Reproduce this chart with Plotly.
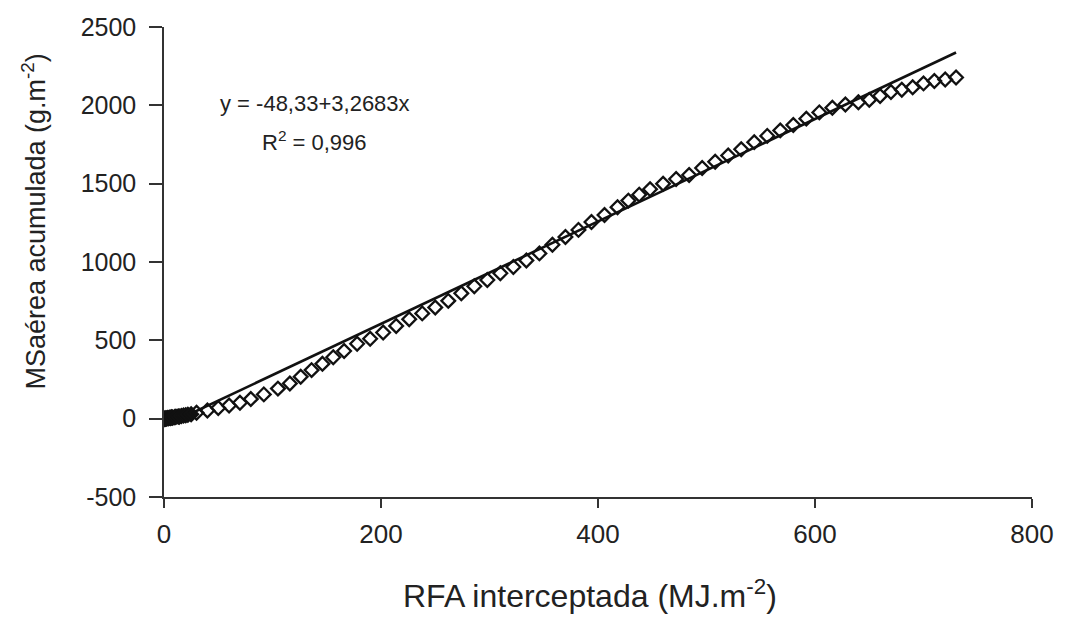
import plotly.graph_objects as go

# Observed data: accumulated above-ground dry matter vs intercepted PAR
rfa_cluster = [0, 1, 2, 3, 4, 5, 6, 7, 8, 10, 11, 13, 14, 16, 18, 20, 22, 25]
ms_cluster = [0, 2, 1, 4, 3, 6, 5, 8, 7, 10, 12, 14, 13, 17, 20, 22, 25, 28]

rfa = [30, 40, 50, 60, 70, 80, 92, 105, 116, 126, 136, 146, 156, 166, 178,
       190, 202, 214, 226, 238, 250, 262, 274, 286, 298, 310, 322, 334, 346,
       358, 370, 382, 394, 406, 418, 428, 438, 448, 460, 472, 484, 496, 508,
       520, 532, 544, 556, 568, 580, 592, 604, 616, 628, 640, 650, 660, 670,
       680, 690, 700, 710, 720, 730]
ms = [38, 52, 68, 84, 102, 125, 155, 192, 225, 268, 310, 350, 392, 432, 478,
      510, 550, 592, 635, 672, 710, 752, 800, 845, 885, 928, 968, 1010, 1055,
      1110, 1160, 1205, 1255, 1300, 1350, 1392, 1430, 1465, 1500, 1530, 1555,
      1600, 1640, 1680, 1720, 1765, 1805, 1840, 1875, 1915, 1955, 1985, 2005,
      2020, 2035, 2060, 2085, 2100, 2115, 2140, 2155, 2165, 2178]

# Regression line given on the chart
intercept = -48.33
slope = 3.2683
line_x = [0, 730]
line_y = [intercept + slope * v for v in line_x]

x_ticks = [0, 200, 400, 600, 800]
y_ticks = [-500, 0, 500, 1000, 1500, 2000, 2500]

font_main = "Liberation Sans, Arial, sans-serif"
ink = "#222222"

W, H = 1066, 620
ML, MR, MT, MB = 164, 30, 27, 123
plot_w = W - ML - MR
plot_h = H - MT - MB


def px_to_paper(px, py):
    return (px - ML) / plot_w, 1 - (py - MT) / plot_h


fig = go.Figure()
fig.add_trace(go.Scatter(
    x=line_x, y=line_y, mode="lines",
    line=dict(color="#111111", width=2.6), showlegend=False, hoverinfo="skip"))
fig.add_trace(go.Scatter(
    x=rfa_cluster, y=ms_cluster, mode="markers",
    marker=dict(symbol="diamond", size=11, color="#111111",
                line=dict(color="#111111", width=2)),
    showlegend=False))
fig.add_trace(go.Scatter(
    x=rfa, y=ms, mode="markers",
    marker=dict(symbol="diamond-open", size=10.5, color="#111111",
                line=dict(color="#111111", width=2.3)),
    showlegend=False))

fig.add_annotation(x=139, y=2011, xref="x", yref="y",
                   text="y = -48,33+3,2683x", showarrow=False,
                   font=dict(family=font_main, size=22, color=ink))
fig.add_annotation(x=139, y=1775, xref="x", yref="y",
                   text="R<sup>2</sup> = 0,996", showarrow=False,
                   font=dict(family=font_main, size=22, color=ink))

# y-axis title
yx, yy = px_to_paper(33, 222)
fig.add_annotation(
    x=yx, y=yy, xref="paper", yref="paper",
    text="MSaérea acumulada (g.m<sup>-2</sup>)",
    showarrow=False, textangle=-90, xanchor="center", yanchor="middle",
    font=dict(family=font_main, size=27, color=ink))

# x-axis title
xx, xy = px_to_paper(592, 594)
fig.add_annotation(
    x=xx, y=xy, xref="paper", yref="paper",
    text="RFA interceptada (MJ.m<sup>-2</sup>)",
    showarrow=False, xanchor="center", yanchor="middle",
    font=dict(family=font_main, size=32, color=ink))

fig.update_layout(
    width=W, height=H,
    margin=dict(l=ML, r=MR, t=MT, b=MB),
    paper_bgcolor="white", plot_bgcolor="white",
    font=dict(family=font_main, size=22, color=ink),
    xaxis=dict(
        range=[0, 800], tickvals=x_ticks, ticktext=[str(v) for v in x_ticks],
        showgrid=False, zeroline=False, showline=True, linecolor="#333333",
        linewidth=1.5, ticks="outside", ticklen=9, tickwidth=1.5,
        tickcolor="#333333", ticklabelstandoff=4,
        tickfont=dict(family=font_main, size=26, color=ink),
    ),
    yaxis=dict(
        range=[-500, 2500], tickvals=y_ticks, ticktext=[str(v) for v in y_ticks],
        showgrid=False, zeroline=False, showline=True, linecolor="#333333",
        linewidth=1.5, ticks="outside", ticklen=13, tickwidth=1.5,
        tickcolor="#333333", ticklabelstandoff=8,
        tickfont=dict(family=font_main, size=25, color=ink),
    ),
)

fig.write_html("out.html")
